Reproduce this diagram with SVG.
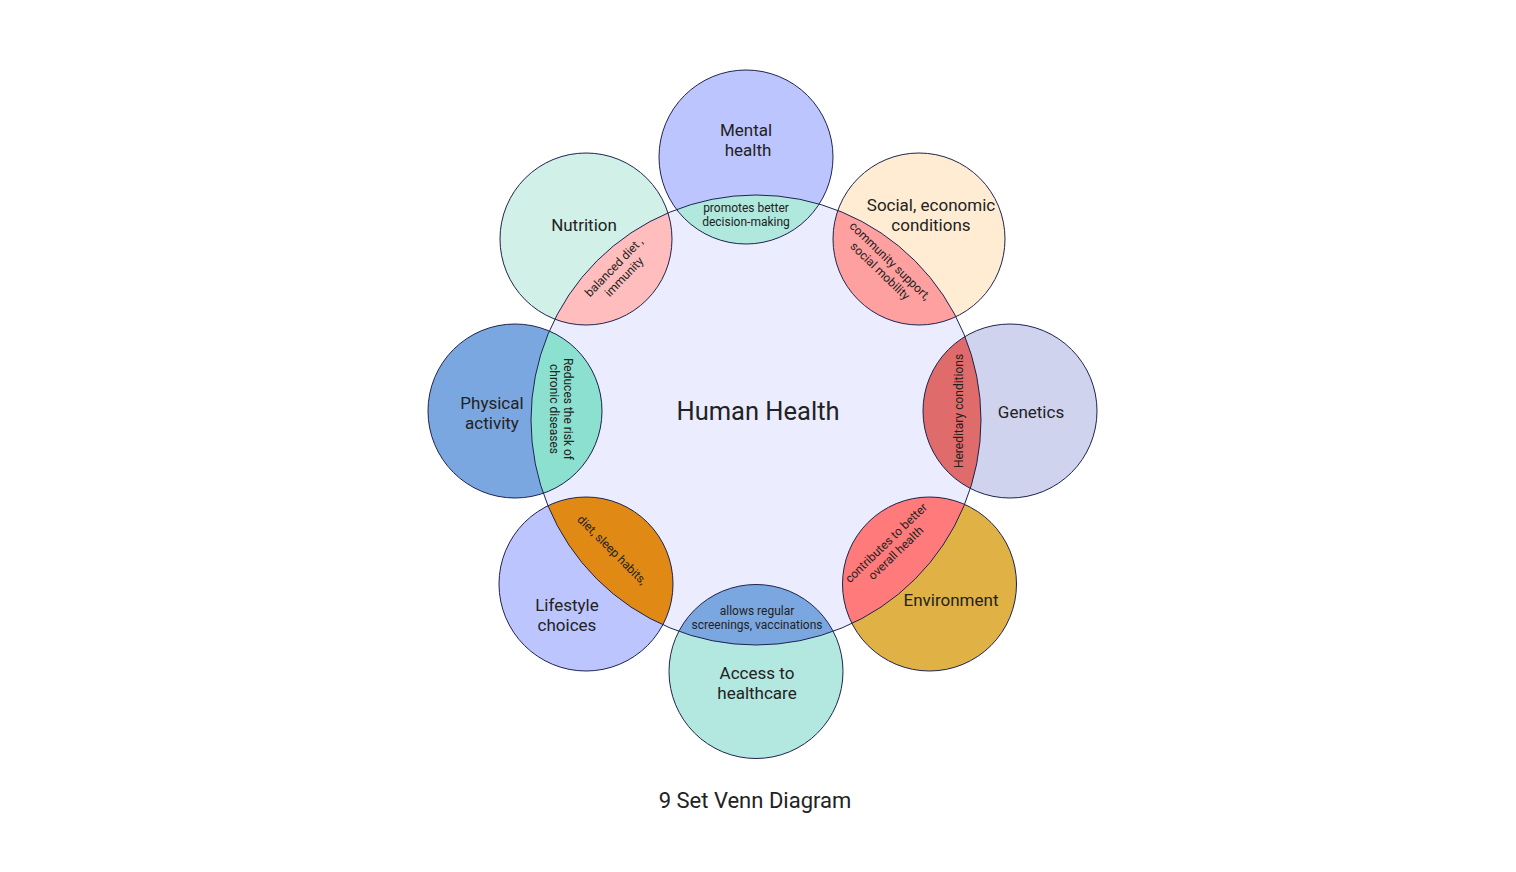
<svg xmlns="http://www.w3.org/2000/svg" width="1516" height="872" viewBox="0 0 1516 872">
<style>
text{font-family:Roboto,"Liberation Sans",sans-serif;fill:#222;text-anchor:middle;dominant-baseline:central}
.lbl{font-size:17px}
.sm{font-size:12px}
.ln{fill:none;stroke:#1e2350;stroke-width:1}
</style>
<defs>
<clipPath id="cc"><circle cx="756" cy="420" r="225"/></clipPath>
</defs>
<rect width="1516" height="872" fill="#fff"/>
<g id="center"><circle cx="756" cy="420" r="225" fill="#ECECFF"/></g>
<g id="fills">
<circle cx="746" cy="157" r="87" fill="#BDC5FF"/>
<circle cx="919" cy="239" r="86" fill="#FFECD2"/>
<circle cx="1010" cy="411" r="87" fill="#D0D3EE"/>
<circle cx="929.5" cy="584" r="87" fill="#E0B246"/>
<circle cx="756" cy="671.5" r="87" fill="#B2E8E0"/>
<circle cx="586" cy="584" r="87" fill="#BDC5FF"/>
<circle cx="515" cy="411" r="87" fill="#7BA7E0"/>
<circle cx="586" cy="239" r="86" fill="#D0F0E8"/>
</g>
<g id="intersections" clip-path="url(#cc)">
<circle cx="746" cy="157" r="87" fill="#B0E8DD"/>
<circle cx="919" cy="239" r="86" fill="#FFA0A0"/>
<circle cx="1010" cy="411" r="87" fill="#E06B6B"/>
<circle cx="929.5" cy="584" r="87" fill="#FF7B7B"/>
<circle cx="756" cy="671.5" r="87" fill="#7BA7E0"/>
<circle cx="586" cy="584" r="87" fill="#E08A15"/>
<circle cx="515" cy="411" r="87" fill="#8CE0D0"/>
<circle cx="586" cy="239" r="86" fill="#FFBDBD"/>
</g>
<g id="outlines">
<circle class="ln" cx="756" cy="420" r="225"/>
<circle class="ln" cx="746" cy="157" r="87"/>
<circle class="ln" cx="919" cy="239" r="86"/>
<circle class="ln" cx="1010" cy="411" r="87"/>
<circle class="ln" cx="929.5" cy="584" r="87"/>
<circle class="ln" cx="756" cy="671.5" r="87"/>
<circle class="ln" cx="586" cy="584" r="87"/>
<circle class="ln" cx="515" cy="411" r="87"/>
<circle class="ln" cx="586" cy="239" r="86"/>
</g>
<g id="node-human-health"><text x="758" y="411" style="font-size:25.5px">Human Health</text></g>
<g id="node-mental"><text class="lbl" x="746" y="130">Mental</text><text class="lbl" x="748" y="150">health</text></g>
<g id="node-social"><text class="lbl" x="931" y="205">Social, economic</text><text class="lbl" x="931" y="225">conditions</text></g>
<g id="node-genetics"><text class="lbl" x="1031" y="412">Genetics</text></g>
<g id="node-environment"><text class="lbl" x="951" y="600">Environment</text></g>
<g id="node-access"><text class="lbl" x="757" y="673">Access to</text><text class="lbl" x="757" y="693">healthcare</text></g>
<g id="node-lifestyle"><text class="lbl" x="567" y="605">Lifestyle</text><text class="lbl" x="567" y="625">choices</text></g>
<g id="node-physical"><text class="lbl" x="492" y="403">Physical</text><text class="lbl" x="492" y="423">activity</text></g>
<g id="node-nutrition"><text class="lbl" x="584" y="225">Nutrition</text></g>
<g id="int-mental"><text class="sm" x="746" y="208">promotes better</text><text class="sm" x="746" y="222">decision-making</text></g>
<g id="int-social" transform="translate(885,266) rotate(44)"><text class="sm" x="0" y="-7">community support,</text><text class="sm" x="0" y="7">social mobility</text></g>
<g id="int-genetics" transform="translate(959,411) rotate(-90)"><text class="sm" x="0" y="0">Hereditary conditions</text></g>
<g id="int-environment" transform="translate(891,548) rotate(-44)"><text class="sm" x="0" y="-7">contributes to better</text><text class="sm" x="0" y="7">overall health</text></g>
<g id="int-access"><text class="sm" x="757" y="611">allows regular</text><text class="sm" x="757" y="625">screenings, vaccinations</text></g>
<g id="int-lifestyle" transform="translate(612,550) rotate(45)"><text class="sm" x="0" y="0">diet, sleep habits,</text></g>
<g id="int-physical" transform="translate(561,409) rotate(90)"><text class="sm" x="0" y="-7">Reduces the risk of</text><text class="sm" x="0" y="7">chronic diseases</text></g>
<g id="int-nutrition" transform="translate(619,272) rotate(-46)"><text class="sm" x="0" y="-7">balanced diet ,</text><text class="sm" x="0" y="7">immunity</text></g>
<g id="title"><text x="755" y="800" style="font-size:22px">9 Set Venn Diagram</text></g>
</svg>
